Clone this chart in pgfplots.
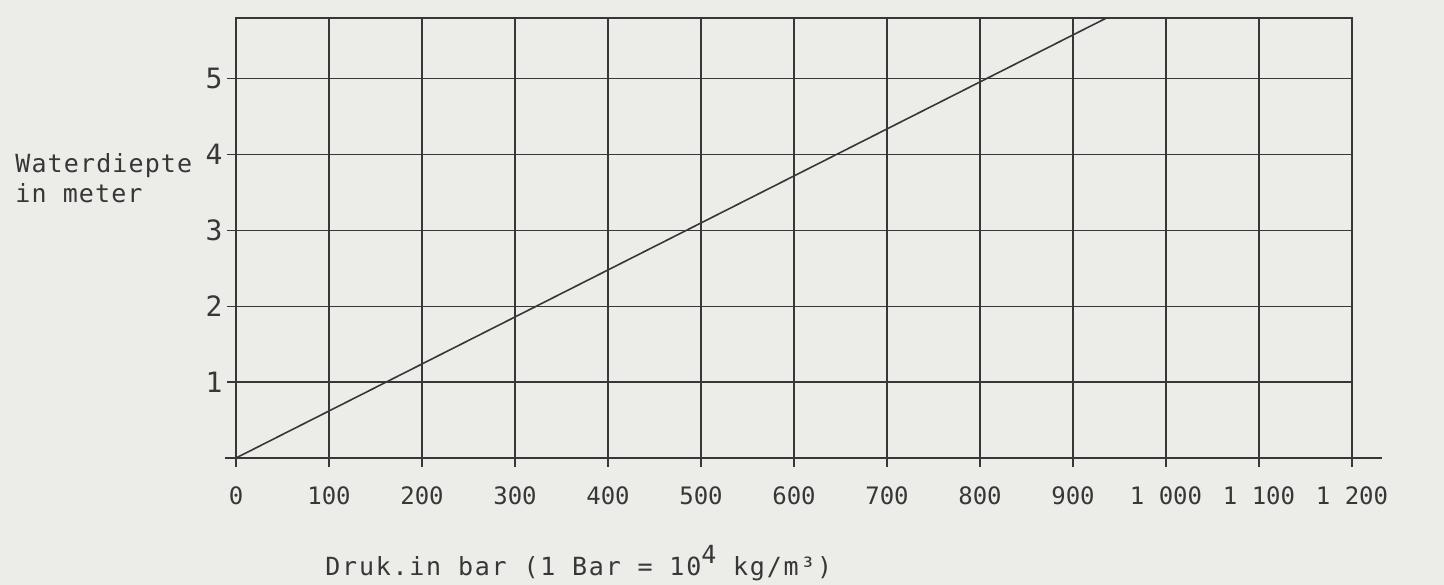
\documentclass[border=0pt]{standalone}
\usepackage{pgfplots}
\pgfplotsset{compat=1.18}
\usepackage{fontspec}
\setmainfont{DejaVu Sans Mono}
\newfontfamily\labelfont[LetterSpace=7]{DejaVu Sans Mono}
\newfontfamily\ylabelfont[LetterSpace=4.5]{DejaVu Sans Mono}
\definecolor{ink}{RGB}{55,55,55}
\definecolor{paper}{RGB}{236,236,233}
\pgfdeclarelayer{background}
\pgfsetlayers{background,main}
\begin{document}
\begin{tikzpicture}
\begin{axis}[
  scale only axis, width=558pt, height=220pt,
  xmin=0, xmax=1200, ymin=0, ymax=5.8,
  xtick={0,100,...,1200},
  xticklabels={0,100,200,300,400,500,600,700,800,900,1 000,1 100,1 200},
  ytick={0,1,2,3,4,5}, yticklabels={,1,2,3,4,5},
  xtick pos=bottom, ytick pos=left,
  grid=major,
  major grid style={ink, line width=0.7pt},
  axis line style={ink, line width=0.8pt},
  tick style={ink, line width=0.7pt},
  tick align=outside, major tick length=4.5pt,
  xticklabel style={font=\fontsize{12}{12}\selectfont, text=ink, inner sep=0pt, yshift=-9.75pt},
  yticklabel style={font=\fontsize{14}{14}\selectfont, text=ink, inner sep=0pt, xshift=-2pt},
  clip=false,
]
\addplot[ink, line width=0.8pt] coordinates {(0,0) (936,5.8)};
\draw[ink, line width=0.8pt] (axis cs:-12,0) -- (axis cs:1232,0);
\end{axis}
\node[anchor=west, inner sep=0pt, align=left, text=ink, font=\ylabelfont\fontsize{12.5}{15}\selectfont]
  at ([shift={(-110.5pt,140pt)}]current axis.south west) {Waterdiepte\\in meter};
\node[anchor=base west, inner sep=0pt, text=ink, font=\labelfont\fontsize{12.5}{15}\selectfont]
  at ([shift={(44.5pt,-59pt)}]current axis.south west) {Druk.in bar (1 Bar = 10\raisebox{0.9ex}{4} kg/m³)};
\pgfresetboundingbox
\path[use as bounding box] ([shift={(-118pt,-63.5pt)}]current axis.south west) rectangle ([shift={(46pt,9pt)}]current axis.north east);
\begin{pgfonlayer}{background}
\fill[paper] ([shift={(-118pt,-63.5pt)}]current axis.south west) rectangle ([shift={(46pt,9pt)}]current axis.north east);
\end{pgfonlayer}
\end{tikzpicture}
\end{document}
